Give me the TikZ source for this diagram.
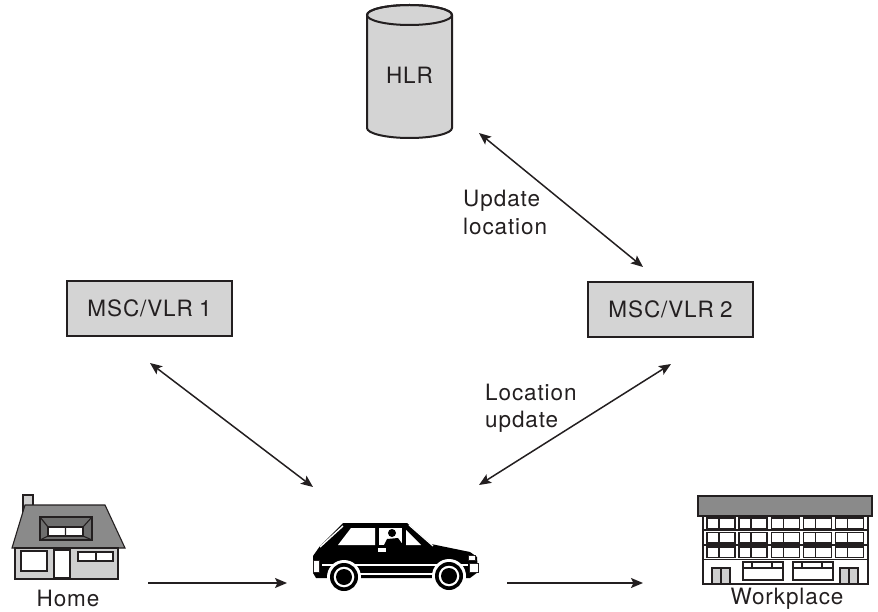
\documentclass[tikz,border=0pt]{standalone}
\usepackage{fontspec}
\setmainfont{TeX Gyre Heros}[LetterSpace=4]
\usetikzlibrary{arrows.meta}
\definecolor{ink}{HTML}{231F20}
\definecolor{boxgrey}{HTML}{D4D4D4}
\definecolor{roofgrey}{HTML}{8A8A8A}
\definecolor{darkgrey}{HTML}{6E6E6E}
\definecolor{wallgrey}{HTML}{CFCFCF}
\tikzset{
  lbl/.style={font=\fontsize{22.5}{28}\selectfont, text=ink, inner sep=0pt},
  mscbox/.style={draw=ink, line width=2.4pt, fill=boxgrey, minimum width=165pt,
                 minimum height=55pt, inner sep=0pt, lbl},
  link/.style={draw=ink, line width=1.5pt,
               {Stealth[length=12pt,width=10pt,inset=2.5pt]}-{Stealth[length=12pt,width=10pt,inset=2.5pt]}},
  move/.style={draw=ink, line width=1.5pt, -{Stealth[length=12pt,width=10pt,inset=2.5pt]}},
  thin/.style={draw=ink, line width=1.1pt},
}
\begin{document}
\begin{tikzpicture}[x=1pt,y=-1pt]
\useasboundingbox (0,0) rectangle (878,612);

% ---------- HLR database cylinder ----------
\path[fill=boxgrey, draw=ink, line width=2pt]
  (367,15) -- (367,128) arc[start angle=180, end angle=360, x radius=42.5pt, y radius=10pt]
  -- (452,15) arc[start angle=0, end angle=180, x radius=42.5pt, y radius=10pt] -- cycle;
\draw[ink, line width=2pt] (409.5,15) ellipse[x radius=42.5pt, y radius=10pt];
\node[lbl] (hlr) at (409.5,75.5) {HLR};

% ---------- switching centres ----------
\node[mscbox] (msc1) at (149.5,308.5) {MSC/VLR\kern-1pt\ 1};
\node[mscbox] (msc2) at (670.5,309.5) {MSC/VLR\kern-1pt\ 2};

% ---------- connector end points ----------
\coordinate (hlrTip)  at (479,133);
\coordinate (mscTwoA) at (643,267);
\coordinate (mscTwoB) at (671,364);
\coordinate (carR)    at (479,485);
\coordinate (mscOneA) at (150,363);
\coordinate (carL)    at (313,487);
\coordinate (homeOut) at (148,583);
\coordinate (carIn)   at (287,583);
\coordinate (carOut)  at (507,583);
\coordinate (workIn)  at (643,583);

\draw[link] (hlrTip) -- (mscTwoA);
\draw[link] (mscOneA) -- (carL);
\draw[link] (mscTwoB) -- (carR);
\draw[move] (homeOut) -- (carIn);
\draw[move] (carOut) -- (workIn);

% ---------- labels ----------
\node[lbl, anchor=base west] (upd1) at (463,207) {Update};
\node[lbl, anchor=base west] (upd2) at (463,235) {location};
\node[lbl, anchor=base west] (loc1) at (485,400) {Location};
\node[lbl, anchor=base west] (loc2) at (485,427) {update};
\node[lbl, anchor=base] (home) at (68,606) {Home};
\node[lbl, anchor=base] (work) at (787,604) {Workplace};

% ---------- house ----------
\filldraw[thin, fill=wallgrey] (23,495) rectangle (33,512);
\filldraw[thin, fill=roofgrey] (12,548) -- (25,505) -- (105,505) -- (125,548) -- cycle;
\filldraw[thin, fill=wallgrey] (15,548) rectangle (118,579);
\filldraw[thin, fill=darkgrey] (40,517) rectangle (92,540);
\filldraw[thin, fill=white] (48,527) rectangle (83,536);
\draw[thin] (40,517) -- (48,527) (92,517) -- (83,527) (40,540) -- (48,536) (92,540) -- (83,536)
            (65.5,527) -- (65.5,536);
\filldraw[draw=ink, line width=1.6pt, fill=white] (21,551) rectangle (47,571);
\filldraw[thin, fill=white] (54,550) rectangle (70,578);
\filldraw[draw=ink, line width=1.4pt, fill=white] (78,552) rectangle (113,561);
\draw[thin] (96,552) -- (96,561);

% ---------- office building ----------
\filldraw[thin, fill=roofgrey] (698,496) rectangle (872,516);
\filldraw[thin, fill=white] (703,516) rectangle (868,584);
\draw[thin] (703,530) -- (868,530) (703,545) -- (868,545) (703,559.5) -- (868,559.5);
\foreach \y in {518,532.5,547}{
  \foreach \x in {707,739,771.5,803.5,835.5}{
    \draw[thin] (\x,\y) rectangle ++(28,10.5);
    \draw[thin] (\x+12,\y) -- ++(0,10.5);
  }
}
\foreach \x in {712,840}{
  \filldraw[thin, fill=wallgrey] (\x,568) rectangle ++(18,16);
  \draw[thin] (\x+9,568) -- ++(0,16);
}
\foreach \x in {743,793}{
  \draw[thin] (\x,562) rectangle ++(40,18);
  \draw[thin] (\x,568) -- ++(40,0) (\x+9,562) -- ++(0,6) (\x+29,562) -- ++(0,6);
}

% ---------- car ----------
\fill[black] (313,556) -- (320,546) -- (343,523) -- (407,523) -- (431,544) -- (470,552)
  -- (477,557) -- (478,572) -- (470,578) -- (316,578) -- (313,573) -- cycle;
% side trim
\draw[white, line width=1.3pt] (322,565) -- (468,565);
\draw[white, line width=1.3pt] (356,574) -- (436,574);
% windows
\fill[white] (338,545) -- (351,528) -- (375,528) -- (375,545) -- cycle;
\fill[white] (379,528) -- (402,528) -- (402,545) -- (379,545) -- cycle;
\fill[white] (406,530) -- (421,545) -- (406,545) -- cycle;
\draw[white, line width=1.4pt] (320,547) -- (343,526);
\draw[white, line width=1.2pt] (409,525) -- (433,546);
% driver
\fill[black] (392,533) circle[radius=4pt];
\fill[black] (384,545) -- (387,539) -- (398,538) -- (403,545) -- cycle;
\fill[white] (378,548) rectangle (386,551.5);
% lights and bumpers
\filldraw[thin, line width=0.8pt, fill=white] (313.5,560) rectangle (319,572);
\filldraw[thin, line width=0.8pt, fill=white] (468,555) rectangle (475,560);
\filldraw[thin, line width=0.8pt, fill=white] (469,563) rectangle (478,572);
% wheels
\foreach \cx/\cy in {344/577, 449/576}{
  \fill[white] (\cx,\cy) circle[radius=17pt];
  \fill[black] (\cx,\cy) circle[radius=14pt];
  \fill[white] (\cx,\cy) circle[radius=10.3pt];
  \fill[black] (\cx,\cy) circle[radius=8pt];
}
\node[inner sep=0pt, minimum width=165pt, minimum height=68pt] (car) at (395.5,557) {};
\end{tikzpicture}
\end{document}
